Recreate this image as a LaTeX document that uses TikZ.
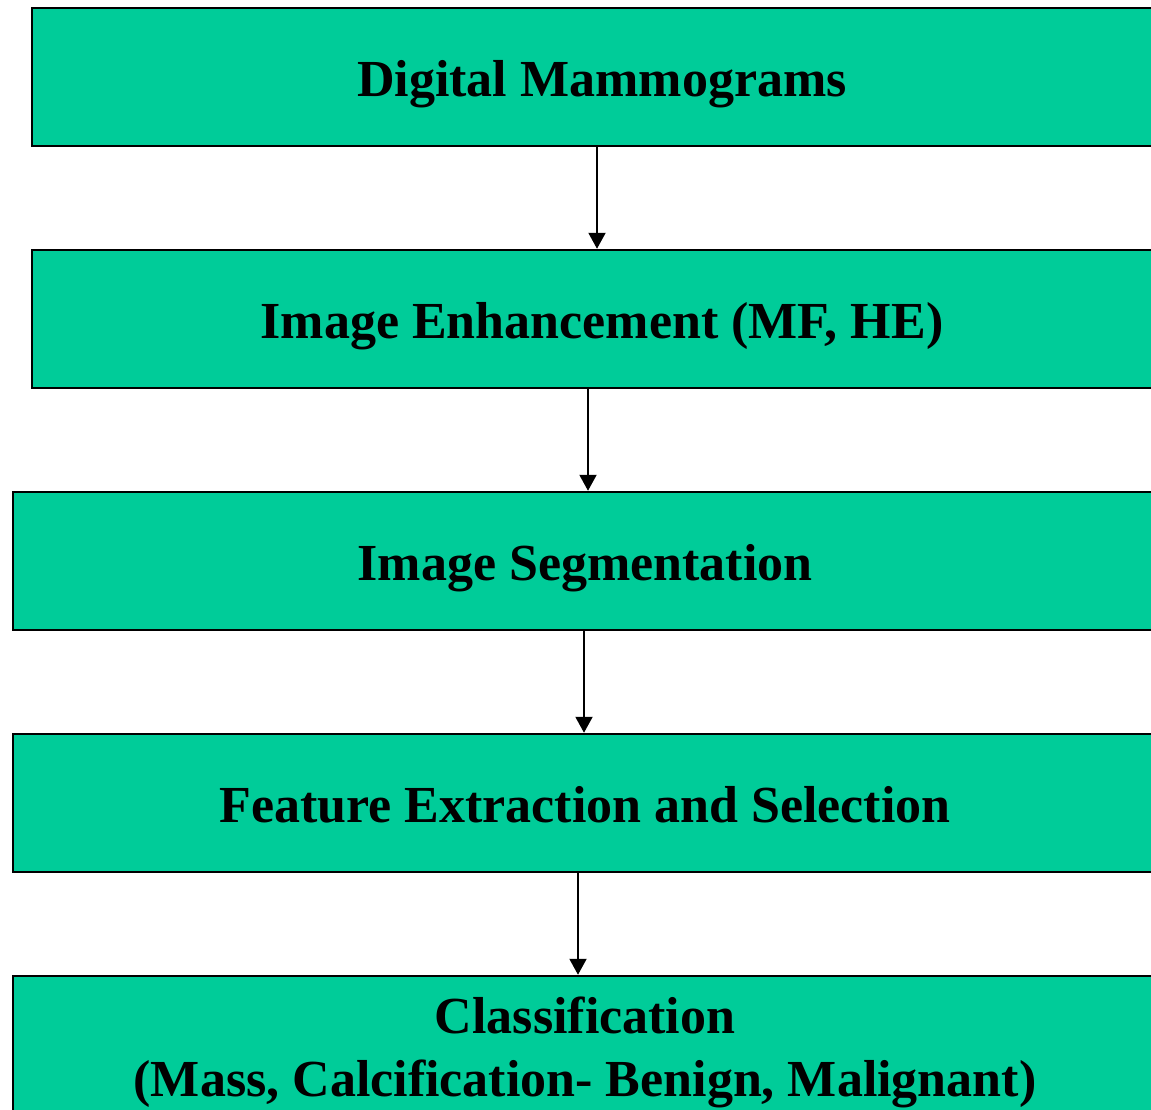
\documentclass[tikz,border=0pt]{standalone}
\usepackage{fontspec}
\setmainfont{Liberation Serif}
\usepackage{xcolor}
\usetikzlibrary{positioning,arrows.meta}
\definecolor{stagegreen}{HTML}{00CC99}
\newcommand{\stagetext}[1]{\raisebox{-7pt}[\height][\depth]{\begin{tabular}{@{}c@{}}#1\end{tabular}}}

\begin{document}
\begin{tikzpicture}[
			x=1pt, y=-1pt,
			stage/.style={rectangle, draw=black, line width=2.5pt, fill=stagegreen, minimum height=138pt, font=\fontsize{52}{63}\selectfont\bfseries, inner sep=0pt},
			flow/.style={-{Triangle[width=17pt,length=16pt]}, line width=2pt}
			]
			\useasboundingbox (0,0) rectangle (1151,1109);
			
			% Pipeline stages
			\node[stage, minimum width=1140pt] (mammo) at (602,77) {\stagetext{Digital Mammograms}};
			\node[stage, minimum width=1140pt] (enhance) at (602,319) {\stagetext{Image Enhancement (MF, HE)}};
			\node[stage, minimum width=1144pt] (segment) at (585,561) {\stagetext{Image Segmentation}};
			\node[stage, minimum width=1144pt] (feature) at (585,803) {\stagetext{Feature Extraction and Selection}};
			\node[stage, minimum width=1144pt] (classify) at (585,1045) {\stagetext{Classification\\(Mass, Calcification- Benign, Malignant)}};
			
			% Arrows
			\draw[flow] ([xshift=-5pt]mammo.south) -- ([xshift=-5pt]mammo.south |- enhance.north);
			\draw[flow] ([xshift=-14pt]enhance.south) -- ([xshift=-14pt]enhance.south |- segment.north);
			\draw[flow] ([xshift=-1pt]segment.south) -- ([xshift=-1pt]segment.south |- feature.north);
			\draw[flow] ([xshift=-7pt]feature.south) -- ([xshift=-7pt]feature.south |- classify.north);
			
		\end{tikzpicture}
\end{document}
